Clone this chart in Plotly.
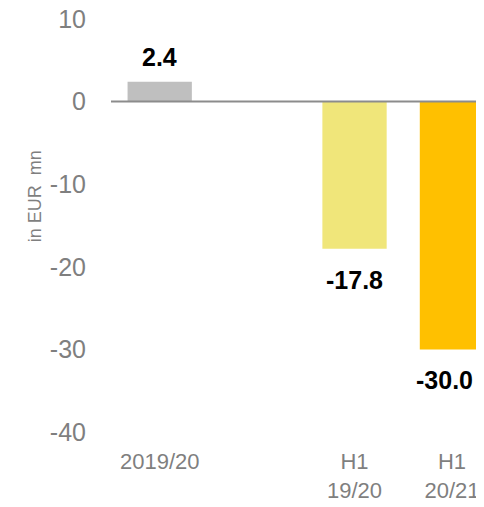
import plotly.graph_objects as go

categories = ["2019/20", " ", "H1<br>19/20", "H1<br>20/21"]
values = [2.4, None, -17.8, -30.0]
labels = ["2.4", "", "-17.8", "-30.0"]
bar_colors = ["#BFBFBF", "#FFFFFF", "#F0E67A", "#FFC000"]
y_ticks = [10, 0, -10, -20, -30, -40]
y_tick_text = ["10", "0", "-10", "-20", "-30", "-40"]

FONT = "Arial, Liberation Sans, sans-serif"

fig = go.Figure()
fig.add_trace(go.Bar(
    x=categories, y=values, marker_color=bar_colors, marker_line_width=0,
    width=0.66, hoverinfo="skip",
))

for i, (c, v, t) in enumerate(zip(categories, values, labels)):
    if v is None:
        continue
    fig.add_annotation(
        x=c, y=v, text=t, showarrow=False,
        yanchor="middle", yshift=25 if v > 0 else -31,
        xshift=-7 if i == len(categories) - 1 else 0,
        font=dict(family=FONT, size=25, color="#000000", weight="bold"),
    )

fig.add_annotation(
    xref="paper", yref="paper", x=-0.208, y=0.571,
    text="in EUR\u00a0\u00a0mn", textangle=-90, showarrow=False,
    xanchor="center", yanchor="middle",
    font=dict(family=FONT, size=18, color="#7F7F7F"),
)

fig.add_shape(type="line", xref="paper", yref="y", x0=0, x1=1, y0=0, y1=0,
              line=dict(color="#8C8C8C", width=2), layer="above")

fig.update_layout(
    width=468, height=491,
    margin=dict(l=103, r=0, t=11, b=67),
    paper_bgcolor="white", plot_bgcolor="white",
    showlegend=False,
    xaxis=dict(
        type="category", range=[-0.5, 3.247], showgrid=False, zeroline=False,
        showline=False, ticks="", ticklabelstandoff=14, automargin=False,
        ticklabeloverflow="allow",
        tickfont=dict(family=FONT, size=22, color="#7F7F7F"),
    ),
    yaxis=dict(
        range=[-40, 10], tickvals=y_ticks, ticktext=y_tick_text,
        showgrid=False, zeroline=False, automargin=False,
        showline=False, ticks="", ticklabelstandoff=24,
        ticklabeloverflow="allow",
        tickfont=dict(family=FONT, size=25, color="#7F7F7F"),
    ),
)

fig.write_html("out.html")
